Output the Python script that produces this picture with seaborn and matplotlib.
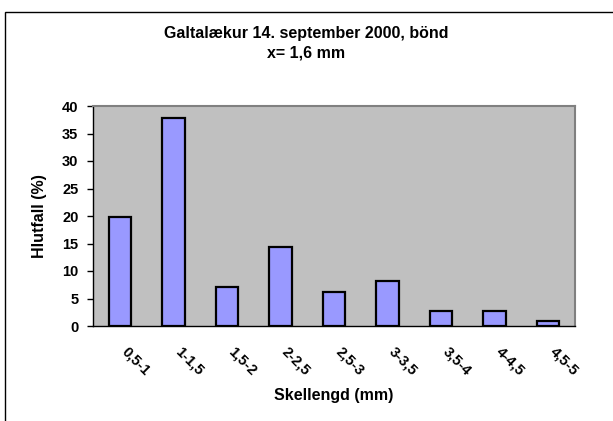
import matplotlib
matplotlib.use("Agg")
import matplotlib.pyplot as plt
import matplotlib.transforms as mtransforms
from matplotlib.patches import Rectangle
import seaborn as sns

# data
categories = ["0,5-1", "1-1,5", "1,5-2", "2-2,5", "2,5-3", "3-3,5", "3,5-4", "4-4,5", "4,5-5"]
hlutfall = [19.8, 37.8, 7.1, 14.4, 6.2, 8.1, 2.7, 2.7, 0.85]
yticks = [0, 5, 10, 15, 20, 25, 30, 35, 40]

title = "Galtalækur 14. september 2000, bönd\nx= 1,6 mm"

sns.set_style("white")
plt.rcParams["font.family"] = ["Liberation Sans", "DejaVu Sans"]
plt.rcParams["font.weight"] = "bold"
plt.rcParams["text.color"] = "black"
plt.rcParams["axes.labelcolor"] = "black"
plt.rcParams["xtick.color"] = "black"
plt.rcParams["ytick.color"] = "black"

W, H = 613, 421
fig = plt.figure(figsize=(W / 100, H / 100), dpi=100)
ax = fig.add_axes([93 / W, 1 - 326 / H, (575 - 93) / W, (326 - 106) / H])
ax.set_facecolor("#C0C0C0")

sns.barplot(x=categories, y=hlutfall, color="#9999FF", saturation=1,
            edgecolor="black", linewidth=1.6, width=0.42, ax=ax)

ax.set_xlim(-0.5, len(categories) - 0.5)
ax.set_ylim(0, 40)
ax.set_yticks(yticks)
ax.set_yticklabels([str(t) for t in yticks], fontsize=10.5, fontweight="bold")

# category ticks sit between bars, labels at the bar centres
ax.set_xticks([i - 0.5 for i in range(len(categories) + 1)], minor=True)
ax.tick_params(axis="x", which="minor", length=4.5, width=1, color="black", direction="out")
ax.tick_params(axis="x", which="major", length=0, pad=13)
ax.tick_params(axis="y", which="major", length=4.5, width=1, color="black",
               direction="out", left=True, pad=6)
ax.set_xticklabels(categories, rotation=-45, ha="left", va="top",
                   rotation_mode="anchor", fontsize=10.5, fontweight="bold")
offset = mtransforms.ScaledTranslation(9 / 100, 0, fig.dpi_scale_trans)
for lbl in ax.get_xticklabels():
    lbl.set_transform(lbl.get_transform() + offset)

for side in ["left", "bottom"]:
    ax.spines[side].set_color("black")
    ax.spines[side].set_linewidth(1)
for side in ["top", "right"]:
    ax.spines[side].set_visible(True)
    ax.spines[side].set_color("#808080")
    ax.spines[side].set_linewidth(1.5)

ax.set_xlabel("Skellengd (mm)", fontsize=11.5, fontweight="bold")
ax.set_ylabel("Hlutfall (%)", fontsize=11.5, fontweight="bold")
ax.xaxis.set_label_coords(0.5, (326 - 388) / 220, transform=ax.transAxes)
ax.yaxis.set_label_coords((47 - 93) / 482, 0.5, transform=ax.transAxes)

fig.text(306 / W, 1 - 26 / H, title, ha="center", va="top",
         fontsize=11.5, fontweight="bold", linespacing=1.35)

# chart area border (cut off on the right and bottom in the reference)
fig.patches.append(Rectangle((5 / W, -0.1), 1.2, 0.1 + 1 - 12 / H,
                             transform=fig.transFigure, fill=False,
                             edgecolor="black", linewidth=1))

fig.savefig("out.png", dpi=100)
